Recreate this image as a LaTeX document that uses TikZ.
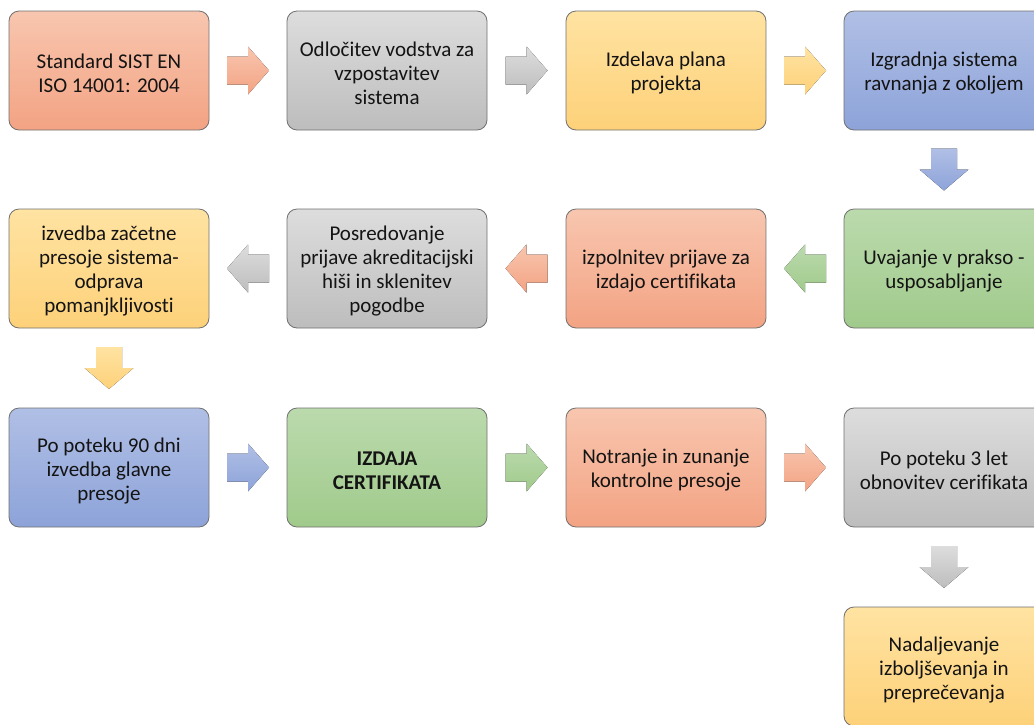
\documentclass[tikz,border=0pt]{standalone}
\usepackage{fontspec}
\setmainfont{Carlito}[Ligatures=NoCommon]
\usetikzlibrary{calc}

% gradient pairs: lighter at the top, deeper at the bottom
\definecolor{salT}{HTML}{F8C6AF}\definecolor{salB}{HTML}{F3A383}
\definecolor{gryT}{HTML}{DDDDDD}\definecolor{gryB}{HTML}{BDBDBD}
\definecolor{yelT}{HTML}{FFE3A2}\definecolor{yelB}{HTML}{FDD179}
\definecolor{bluT}{HTML}{B0BFE5}\definecolor{bluB}{HTML}{8DA3D9}
\definecolor{grnT}{HTML}{BBDAAD}\definecolor{grnB}{HTML}{A0CA8B}
\definecolor{edge}{HTML}{707070}
\definecolor{ink}{HTML}{141414}

\tikzset{
  stagebox/.style={rounded corners=10pt, draw=edge, line width=0.8pt,
    minimum width=200pt, minimum height=119pt, inner sep=0pt},
  stagetext/.style={align=center, text=ink, inner sep=0pt,
    font=\fontsize{21}{24}\selectfont},
  sal/.style={top color=salT, bottom color=salB},
  gry/.style={top color=gryT, bottom color=gryB},
  yel/.style={top color=yelT, bottom color=yelB},
  blu/.style={top color=bluT, bottom color=bluB},
  grn/.style={top color=grnT, bottom color=grnB},
}

% a stage: shaded rounded box plus its centred caption
\newcommand\stage[4]{%
  \node[stagebox, #3] (#1) at (#2) {};
  \node[stagetext] (#1-t) at ([yshift=-3pt]#1.center) {#4};}

% block arrows placed halfway between two named stages
\newcommand\flowright[3]{%
  \coordinate (m) at ($(#1.east)!0.5!(#2.west)$);
  \fill[#3] ($(m)+(-21,-14)$) -- ($(m)+(0,-14)$) -- ($(m)+(0,-24)$) --
    ($(m)+(21,0)$) -- ($(m)+(0,24)$) -- ($(m)+(0,14)$) -- ($(m)+(-21,14)$) -- cycle;}
\newcommand\flowleft[3]{%
  \coordinate (m) at ($(#1.west)!0.5!(#2.east)$);
  \fill[#3] ($(m)+(21,-14)$) -- ($(m)+(0,-14)$) -- ($(m)+(0,-24)$) --
    ($(m)+(-21,0)$) -- ($(m)+(0,24)$) -- ($(m)+(0,14)$) -- ($(m)+(21,14)$) -- cycle;}
\newcommand\flowdown[3]{%
  \coordinate (m) at ($(#1.south)!0.5!(#2.north)$);
  \fill[#3] ($(m)+(-13,-21)$) -- ($(m)+(13,-21)$) -- ($(m)+(13,0)$) --
    ($(m)+(24.5,0)$) -- ($(m)+(0,21)$) -- ($(m)+(-24.5,0)$) -- ($(m)+(-13,0)$) -- cycle;}

\begin{document}
\begin{tikzpicture}[x=1pt, y=-1pt]
\useasboundingbox (0,0) rectangle (1034,724);
\clip (0,0) rectangle (1034,724);

% row 1
\stage{s1}{109,70.5}{sal}{Standard SIST EN\\ISO 14001: 2004}
\stage{s2}{387,70.5}{gry}{Odločitev vodstva za\\vzpostavitev\\sistema}
\stage{s3}{666,70.5}{yel}{Izdelava plana\\projekta}
\stage{s4}{944,70.5}{blu}{Izgradnja sistema\\ravnanja z okoljem}
% row 2
\stage{s5}{944,268.5}{grn}{Uvajanje v prakso -\\usposabljanje}
\stage{s6}{666,268.5}{sal}{izpolnitev prijave za\\izdajo certifikata}
\stage{s7}{387,268.5}{gry}{Posredovanje\\prijave akreditacijski\\hiši in sklenitev\\pogodbe}
\stage{s8}{109,268.5}{yel}{izvedba začetne\\presoje sistema-\\odprava\\pomanjkljivosti}
% row 3
\stage{s9}{109,467.5}{blu}{Po poteku 90 dni\\izvedba glavne\\presoje}
\stage{s10}{387,467.5}{grn}{\bfseries IZDAJA\\\bfseries CERTIFIKATA}
\stage{s11}{666,467.5}{sal}{Notranje in zunanje\\kontrolne presoje}
\stage{s12}{944,467.5}{gry}{Po poteku 3 let\\obnovitev cerifikata}
% row 4
\stage{s13}{944,666.5}{yel}{Nadaljevanje\\izboljševanja in\\preprečevanja}

% arrows between stages
\flowright{s1}{s2}{sal}
\flowright{s2}{s3}{gry}
\flowright{s3}{s4}{yel}
\flowdown{s4}{s5}{blu}
\flowleft{s5}{s6}{grn}
\flowleft{s6}{s7}{sal}
\flowleft{s7}{s8}{gry}
\flowdown{s8}{s9}{yel}
\flowright{s9}{s10}{blu}
\flowright{s10}{s11}{grn}
\flowright{s11}{s12}{sal}
\flowdown{s12}{s13}{gry}
\end{tikzpicture}
\end{document}
